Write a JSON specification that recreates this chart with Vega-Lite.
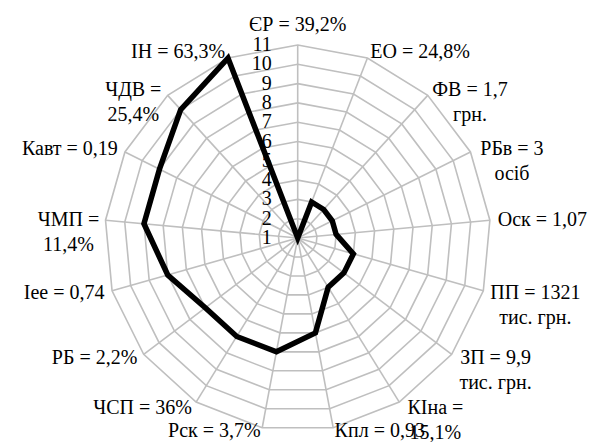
{
  "$schema": "https://vega.github.io/schema/vega-lite/v6.json",
  "width": 593,
  "height": 442,
  "autosize": "none",
  "padding": 0,
  "background": "white",
  "config": {"view": {"stroke": null}},
  "datasets": {
    "indicators": [
      {"i": 0, "label": "ЄР = 39,2%", "score": 1},
      {"i": 1, "label": "ЕО = 24,8%", "score": 3},
      {"i": 2, "label": "ФВ = 1,7\nгрн.", "score": 3},
      {"i": 3, "label": "РБв = 3\nосіб", "score": 3},
      {"i": 4, "label": "Оск = 1,07", "score": 3},
      {"i": 5, "label": "ПП = 1321\nтис. грн.", "score": 4},
      {"i": 6, "label": "ЗП = 9,9\nтис. грн.", "score": 4},
      {"i": 7, "label": "КІна =\n15,1%", "score": 4},
      {"i": 8, "label": "Кпл = 0,93", "score": 6},
      {"i": 9, "label": "Рск = 3,7%", "score": 7},
      {"i": 10, "label": "ЧСП = 36%", "score": 7},
      {"i": 11, "label": "РБ = 2,2%", "score": 7},
      {"i": 12, "label": "Іее = 0,74", "score": 8},
      {"i": 13, "label": "ЧМП =\n11,4%", "score": 9},
      {"i": 14, "label": "Кавт = 0,19", "score": 9},
      {"i": 15, "label": "ЧДВ =\n25,4%", "score": 10},
      {"i": 16, "label": "ІН = 63,3%", "score": 11}
    ],
    "rings": [
      {"ring": 1, "i": [0,1,2,3,4,5,6,7,8,9,10,11,12,13,14,15,16]},
      {"ring": 2, "i": [0,1,2,3,4,5,6,7,8,9,10,11,12,13,14,15,16]},
      {"ring": 3, "i": [0,1,2,3,4,5,6,7,8,9,10,11,12,13,14,15,16]},
      {"ring": 4, "i": [0,1,2,3,4,5,6,7,8,9,10,11,12,13,14,15,16]},
      {"ring": 5, "i": [0,1,2,3,4,5,6,7,8,9,10,11,12,13,14,15,16]},
      {"ring": 6, "i": [0,1,2,3,4,5,6,7,8,9,10,11,12,13,14,15,16]},
      {"ring": 7, "i": [0,1,2,3,4,5,6,7,8,9,10,11,12,13,14,15,16]},
      {"ring": 8, "i": [0,1,2,3,4,5,6,7,8,9,10,11,12,13,14,15,16]},
      {"ring": 9, "i": [0,1,2,3,4,5,6,7,8,9,10,11,12,13,14,15,16]},
      {"ring": 10, "i": [0,1,2,3,4,5,6,7,8,9,10,11,12,13,14,15,16]},
      {"ring": 11, "i": [0,1,2,3,4,5,6,7,8,9,10,11,12,13,14,15,16]}
    ]
  },
  "layer": [
    {
      "data": {"name": "rings"},
      "transform": [
        {"filter": "datum.ring >= 2"},
        {"flatten": ["i"]},
        {"calculate": "datum.i * 2 * PI / 17", "as": "a"},
        {"calculate": "(datum.ring - 1) * sin(datum.a)", "as": "gx"},
        {"calculate": "(datum.ring - 1) * cos(datum.a)", "as": "gy"}
      ],
      "mark": {"type": "line", "interpolate": "linear-closed", "stroke": "#bfbfbf", "strokeWidth": 1.6},
      "encoding": {
        "x": {"field": "gx", "type": "quantitative", "scale": {"domain": [-15.425, 15.301], "nice": false, "zero": false}, "axis": null},
        "y": {"field": "gy", "type": "quantitative", "scale": {"domain": [-10.57, 12.332], "nice": false, "zero": false}, "axis": null},
        "detail": {"field": "ring", "type": "nominal"},
        "order": {"field": "i", "type": "quantitative"}
      }
    },
    {
      "data": {"name": "indicators"},
      "transform": [
        {"calculate": "datum.i * 2 * PI / 17", "as": "a"},
        {"calculate": "10 * sin(datum.a)", "as": "sx"},
        {"calculate": "10 * cos(datum.a)", "as": "sy"}
      ],
      "mark": {"type": "rule", "stroke": "#bfbfbf", "strokeWidth": 1.6},
      "encoding": {
        "x": {"field": "sx", "type": "quantitative"},
        "y": {"field": "sy", "type": "quantitative"},
        "x2": {"datum": 0},
        "y2": {"datum": 0}
      }
    },
    {
      "data": {"name": "rings"},
      "transform": [
        {"calculate": "datum.ring - 1", "as": "r"}
      ],
      "mark": {"type": "text", "align": "right", "baseline": "middle", "dx": -26, "font": "Liberation Serif, Times New Roman, serif", "fontSize": 20, "fill": "#000000"},
      "encoding": {
        "x": {"datum": 0},
        "y": {"field": "r", "type": "quantitative"},
        "text": {"field": "ring", "type": "quantitative"}
      }
    },
    {
      "data": {"name": "indicators"},
      "transform": [
        {"calculate": "datum.i * 2 * PI / 17", "as": "a"},
        {"calculate": "(datum.score - 1) * sin(datum.a)", "as": "px"},
        {"calculate": "(datum.score - 1) * cos(datum.a)", "as": "py"}
      ],
      "mark": {"type": "line", "interpolate": "linear-closed", "stroke": "#000000", "strokeWidth": 5.5, "strokeJoin": "miter", "strokeMiterLimit": 10},
      "encoding": {
        "x": {"field": "px", "type": "quantitative"},
        "y": {"field": "py", "type": "quantitative"},
        "order": {"field": "i", "type": "quantitative"}
      }
    },
    {
      "data": {"name": "indicators"},
      "transform": [
        {"calculate": "datum.i * 2 * PI / 17", "as": "a"},
        {"calculate": "sin(datum.a)", "as": "s"},
        {"calculate": "cos(datum.a)", "as": "c"},
        {"calculate": "split(datum.label, '\\n')", "as": "lines"},
        {"calculate": "length(datum.lines) > 1", "as": "multi"},
        {"calculate": "datum.lines[0]", "as": "l1"},
        {"calculate": "datum.multi ? datum.lines[1] : ''", "as": "l2"},
        {"calculate": "0.5 * length(datum.l1) - 0.25 * (length(datum.l1) - length(replace(datum.l1, regexp('[ ,.]', 'g'), ''))) + 0.22 * (length(datum.l1) - length(replace(datum.l1, regexp('[А-ЯЄІ]', 'g'), '')))", "as": "w1"},
        {"calculate": "0.5 * length(datum.l2) - 0.25 * (length(datum.l2) - length(replace(datum.l2, regexp('[ ,.]', 'g'), ''))) + 0.22 * (length(datum.l2) - length(replace(datum.l2, regexp('[А-ЯЄІ]', 'g'), '')))", "as": "w2"},
        {"calculate": "abs(datum.s) < 0.01 ? 0 : (datum.s > 0 ? 1 : -1)", "as": "sg"},
        {"calculate": "10.41 * datum.s + (datum.multi ? datum.sg * max(datum.w1, datum.w2) * 0.518 : 0)", "as": "lx"},
        {"calculate": "max(10.36 * datum.c, -9.98) + (abs(datum.s) < 0.01 ? 0.68 : 0)", "as": "ly"}
      ],
      "mark": {
        "type": "text",
        "baseline": "middle",
        "align": {"expr": "(datum.multi || datum.sg == 0) ? 'center' : (datum.sg > 0 ? 'left' : 'right')"},
        "lineBreak": "\n",
        "lineHeight": 25,
        "font": "Liberation Serif, Times New Roman, serif",
        "fontSize": 20,
        "fill": "#000000"
      },
      "encoding": {
        "x": {"field": "lx", "type": "quantitative"},
        "y": {"field": "ly", "type": "quantitative"},
        "text": {"field": "label", "type": "nominal"}
      }
    }
  ]
}
